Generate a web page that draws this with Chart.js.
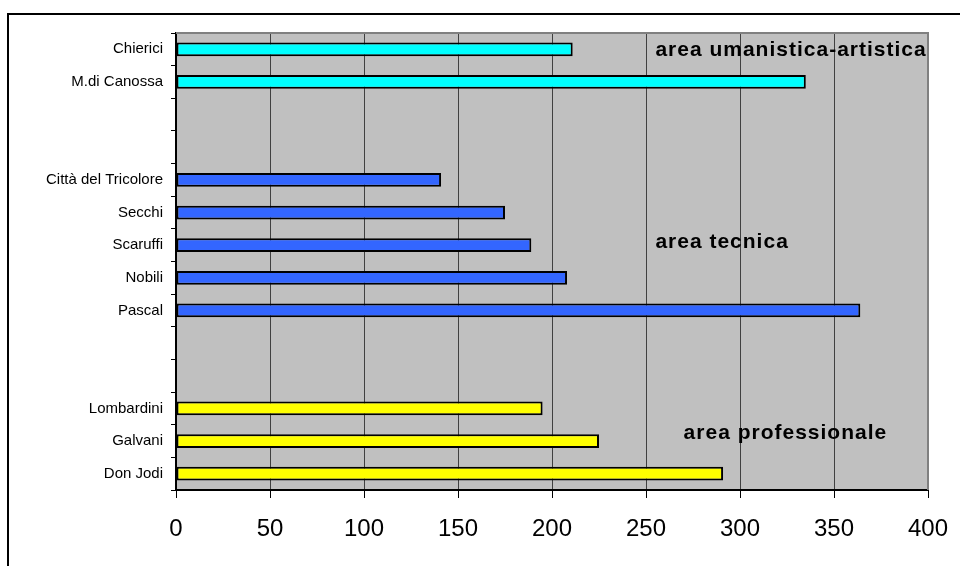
<!DOCTYPE html>
<html>
<head>
<meta charset="utf-8">
<script src="https://cdn.jsdelivr.net/npm/chart.js@4.4.1/dist/chart.umd.min.js"></script>
<style>
  body { margin: 0; background: #fff; }
  #wrap { position: relative; width: 960px; height: 566px; overflow: hidden; }
  #frame { position: absolute; left: 7px; top: 13px; right: -10px; bottom: -10px;
           border-left: 2px solid #000; border-top: 2px solid #000; }
  #chart { position: absolute; left: 0; top: 0; }
</style>
</head>
<body>
<div id="wrap">
  <div id="frame"></div>
  <canvas id="chart" width="960" height="566"></canvas>
</div>
<script>
// Data (top to bottom), blank rows separate the three groups
const schools = ['Chierici', 'M.di Canossa', '', '', 'Città del Tricolore', 'Secchi', 'Scaruffi', 'Nobili', 'Pascal', '', '', 'Lombardini', 'Galvani', 'Don Jodi'];
const values = [211, 335, null, null, 141, 175, 189, 208, 364, null, null, 195, 225, 291];
const groups = ['uman', 'uman', null, null, 'tec', 'tec', 'tec', 'tec', 'tec', null, null, 'prof', 'prof', 'prof'];
const xTicks = [0, 50, 100, 150, 200, 250, 300, 350, 400];
const areaNames = ['area umanistica-artistica', 'area tecnica', 'area professionale'];

// Styles
const groupColors = { uman: '#00FFFF', tec: '#3366FF', prof: '#FFFF00' };
const FONT = '"Liberation Sans", Arial, sans-serif';

// where the group captions sit, in axis units (x value, category index)
const captionAnchors = [
  { x: 255, y: 0.2 },
  { x: 255, y: 6.08 },
  { x: 270, y: 11.94 }
];

const plotStyle = {
  id: 'plotStyle',
  beforeDraw(chart) {
    const { ctx, chartArea: a } = chart;
    ctx.save();
    ctx.fillStyle = '#C0C0C0';
    ctx.fillRect(a.left, a.top, a.right - a.left, a.bottom - a.top);
    ctx.restore();
  },
  afterDatasetsDraw(chart) {
    const { ctx, chartArea: a, scales } = chart;
    ctx.save();
    // gray frame on top and right of the plot
    ctx.strokeStyle = '#808080';
    ctx.lineWidth = 2;
    ctx.beginPath();
    ctx.moveTo(a.left, a.top);
    ctx.lineTo(a.right, a.top);
    ctx.lineTo(a.right, a.bottom);
    ctx.stroke();

    // group captions
    ctx.fillStyle = '#000';
    ctx.font = 'bold 21px ' + FONT;
    ctx.textAlign = 'left';
    ctx.textBaseline = 'alphabetic';
    if ('letterSpacing' in ctx) ctx.letterSpacing = '1px';
    areaNames.forEach((name, i) => {
      const px = scales.x.getPixelForValue(captionAnchors[i].x);
      const py = scales.y.getPixelForValue(captionAnchors[i].y);
      ctx.fillText(name, px, py);
    });
    ctx.restore();
  }
};

new Chart(document.getElementById('chart'), {
  type: 'bar',
  data: {
    labels: schools,
    datasets: [{
      data: values,
      backgroundColor: groups.map(g => g ? groupColors[g] : 'transparent'),
      borderColor: '#000',
      borderWidth: 2,
      borderSkipped: false,
      categoryPercentage: 1,
      barPercentage: 0.42
    }]
  },
  options: {
    indexAxis: 'y',
    responsive: false,
    devicePixelRatio: 1,
    animation: false,
    layout: { padding: { top: 33, right: 32, left: 0, bottom: 0 } },
    plugins: {
      legend: { display: false },
      tooltip: { enabled: false }
    },
    scales: {
      x: {
        min: 0,
        max: 400,
        afterBuildTicks(scale) {
          scale.ticks = xTicks.map(v => ({ value: v }));
        },
        afterFit(scale) {
          scale.height = 76;
          // keep the plot edge fixed, labels fit in the layout padding
          scale.paddingLeft = 0;
          scale.paddingRight = 0;
        },
        grid: {
          color: '#404040',
          lineWidth: 1,
          tickLength: 8,
          tickColor: '#000'
        },
        border: { color: '#000', width: 2 },
        ticks: {
          color: '#000',
          font: { family: FONT, size: 24 },
          padding: 17,
          maxRotation: 0
        }
      },
      y: {
        afterFit(scale) { scale.width = 176; },
        grid: {
          drawOnChartArea: false,
          tickLength: 5,
          tickColor: '#000',
          offset: true
        },
        border: { color: '#000', width: 2 },
        ticks: {
          color: '#000',
          font: { family: FONT, size: 15 },
          padding: 8,
          autoSkip: false
        }
      }
    }
  },
  plugins: [plotStyle]
});
</script>
</body>
</html>
